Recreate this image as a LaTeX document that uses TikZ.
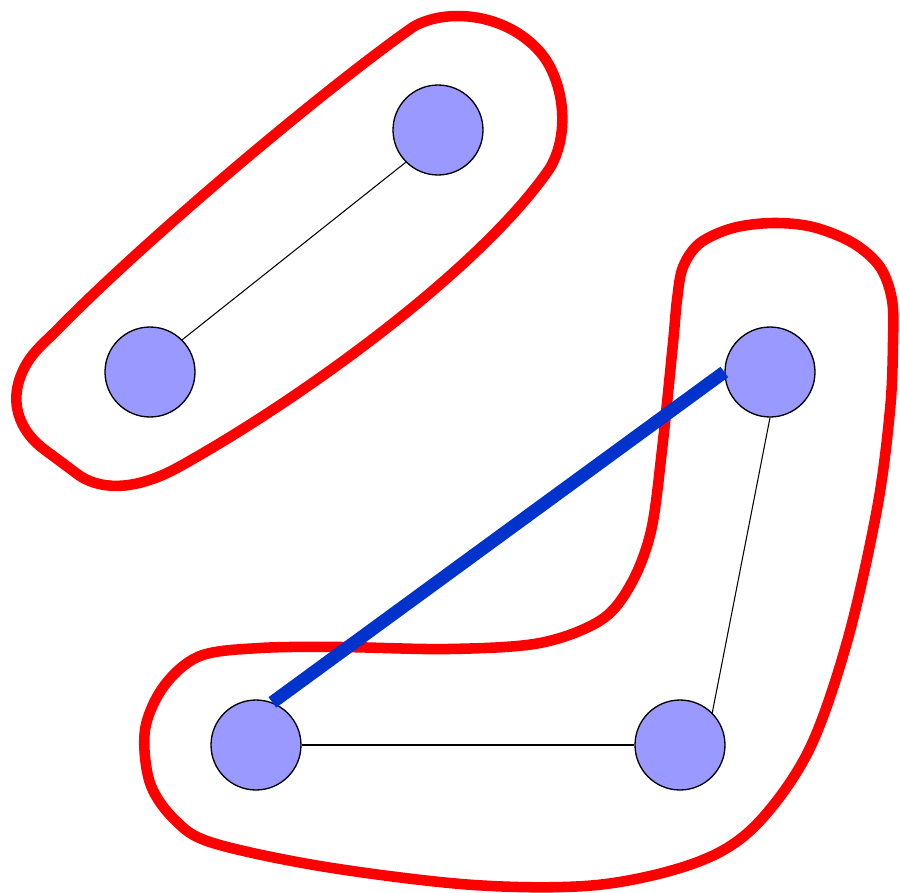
\documentclass[tikz,border=0pt]{standalone}
\usepackage{xcolor}
\usepackage{tikz}
\definecolor{vertfill}{RGB}{153,153,255}
\definecolor{hullred}{RGB}{255,0,0}
\definecolor{pathblue}{RGB}{0,51,204}
\tikzstyle{vert} = [circle, draw=black, fill=vertfill, line width=0.75pt,
inner sep=0pt, minimum size=1.8cm]
\tikzstyle{edge} = [draw=black, line width=0.6pt]
\tikzstyle{hull} = [draw=hullred, line width=6pt, line join=round]
\tikzstyle{match} = [draw=pathblue, line width=7.4pt, line cap=butt]

\begin{document}
\begin{tikzpicture}[x=0.02cm, y=-0.02cm]
    \useasboundingbox (0,0) rectangle (900,893);

    \draw[hull] (413,27) .. controls (445,8) and (505,12) .. (540,52)
        .. controls (562,77) and (572,130) .. (550,168)
        .. controls (480,270) and (300,400) .. (177,468)
        .. controls (140,488) and (105,492) .. (80,476)
        -- (45,450)
        .. controls (20,432) and (5,400) .. (27,363)
        .. controls (35,350) and (45,342) .. (57,330)
        .. controls (150,235) and (330,85) .. cycle;
    \draw[hull] plot[smooth cycle, tension=0.55] coordinates {
        (773,223) (813,227) (853,243) (880,267) (892,300) (893,343)
        (890,410) (877,509) (847,642) (808,752) (754,827) (695,863)
        (597,885) (474,885) (326,867) (213,843) (175,820) (150,783)
        (145,730) (164,686) (200,656) (260,648) (340,647) (449,649)
        (540,643) (601,620) (631,584) (651,531) (662,450) (673,343)
        (677,300) (683,267) (700,243) (733,228)};

    \node (topv)   [vert] at (438,130) {};
    \node (leftv)  [vert] at (150,372) {};
    \node (rightv) [vert] at (770,372) {};
    \node (lowl)   [vert] at (256,745) {};
    \node (lowr)   [vert] at (680,745) {};

    \draw[edge] (topv.south west) -- (leftv.north east);
    \draw[edge] (rightv.south)    -- (lowr.45);
    \draw[edge] (lowl.east)       -- (lowr.west);
    \draw[match] (lowl.69) -- (rightv.west);
\end{tikzpicture}
\end{document}
